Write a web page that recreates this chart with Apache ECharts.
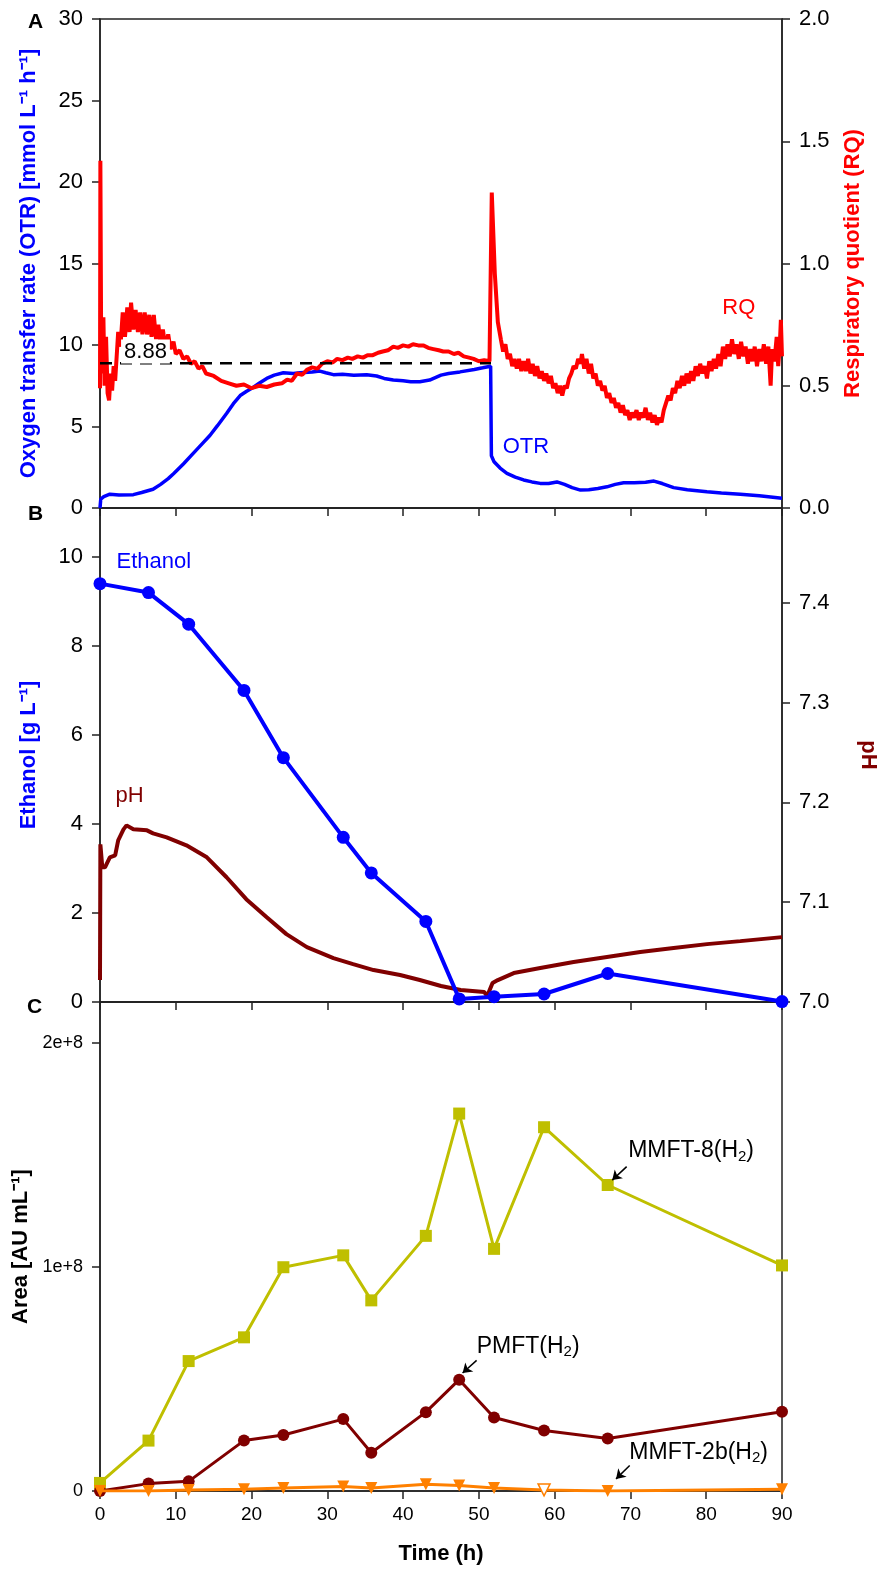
<!DOCTYPE html>
<html>
<head>
<meta charset="utf-8">
<script src="https://cdn.jsdelivr.net/npm/echarts@6/dist/echarts.min.js"></script>
<style>
  html, body { margin: 0; padding: 0; background: #fff; }
  #chart { width: 882px; height: 1578px; }
</style>
</head>
<body>
<div id="chart"></div>
<script>
// panel A: online signals [time h, value]
const otrPoints = [
  [0, 0], [0.1, 0.55], [0.5, 0.7], [1.3, 0.85], [2.5, 0.8], [4.4, 0.82], [5.5, 0.95], [7.0, 1.15],
  [8.0, 1.45], [9.0, 1.8], [9.7, 2.1], [11.0, 2.7], [12.3, 3.35], [13.5, 3.95], [14.5, 4.45],
  [15.5, 5.05], [16.7, 5.8], [17.6, 6.4], [18.5, 6.9], [19.3, 7.15], [20.2, 7.4], [21.0, 7.65],
  [22.0, 7.95], [23.0, 8.15], [24.2, 8.3], [25.5, 8.25], [26.4, 8.3], [28.0, 8.35], [29.0, 8.4],
  [29.8, 8.3], [30.8, 8.18], [32.0, 8.2], [33.5, 8.15], [35.2, 8.18], [36.5, 8.1], [37.5, 7.95],
  [38.7, 7.85], [40.0, 7.8], [41.0, 7.75], [42.2, 7.75], [43.5, 7.85], [45.0, 8.15], [46.0, 8.25],
  [47.5, 8.35], [49.4, 8.5], [50.5, 8.6], [51.55, 8.7], [51.65, 3.2], [52.0, 2.84], [52.8, 2.45],
  [53.7, 2.13], [54.8, 1.9], [55.9, 1.72], [57.0, 1.6], [58.1, 1.51], [59.2, 1.5], [60.3, 1.6],
  [61.3, 1.45], [62.3, 1.25], [63.4, 1.1], [64.5, 1.12], [65.7, 1.2], [66.9, 1.3], [68.0, 1.45],
  [69.1, 1.55], [70.5, 1.55], [72.0, 1.58], [73.1, 1.65], [74.2, 1.5], [75.7, 1.25], [77.5, 1.12],
  [80.1, 1.0], [82.0, 0.92], [84.5, 0.84], [87.0, 0.75], [90.0, 0.6]
]
const rqPoints = [
  [0, 0.49], [0.05, 1.42], [0.15, 0.70], [0.3, 0.55], [0.45, 0.78], [0.6, 0.50], [0.8, 0.70],
  [1.0, 0.47], [1.2, 0.44], [1.4, 0.55], [1.6, 0.48], [1.8, 0.58], [2.0, 0.52], [2.2, 0.62],
  [2.4, 0.72], [2.7, 0.66], [3.0, 0.80], [3.3, 0.70], [3.6, 0.82], [3.9, 0.72], [4.1, 0.84],
  [4.4, 0.73], [4.7, 0.81], [5.0, 0.72], [5.3, 0.80], [5.6, 0.71], [5.9, 0.80], [6.2, 0.71],
  [6.5, 0.79], [6.8, 0.70], [7.1, 0.79], [7.4, 0.69], [7.7, 0.75], [8.0, 0.67], [8.3, 0.73],
  [8.6, 0.66], [9.0, 0.71], [9.3, 0.65], [9.7, 0.68], [10.0, 0.63], [10.5, 0.645], [11.0, 0.61],
  [11.5, 0.62], [12.0, 0.59], [12.5, 0.60], [13.0, 0.57], [13.5, 0.58], [14.0, 0.55], [15.0, 0.54],
  [16.0, 0.52], [17.0, 0.51], [18.0, 0.50], [19.0, 0.505], [20.0, 0.49], [21.0, 0.50], [22.0, 0.495],
  [23.0, 0.505], [24.0, 0.51], [24.7, 0.525], [25.3, 0.52], [26.0, 0.55], [26.7, 0.545], [27.3, 0.565],
  [28.0, 0.575], [28.7, 0.57], [29.3, 0.59], [30.0, 0.60], [30.7, 0.595], [31.3, 0.61], [32.0, 0.605],
  [32.7, 0.615], [33.3, 0.61], [34.0, 0.62], [34.7, 0.615], [35.3, 0.625], [36.0, 0.625], [36.7, 0.635],
  [37.3, 0.64], [38.0, 0.645], [38.7, 0.66], [39.3, 0.655], [40.0, 0.665], [40.7, 0.66], [41.3, 0.67],
  [42.0, 0.665], [42.7, 0.665], [43.3, 0.655], [44.0, 0.65], [44.7, 0.645], [45.3, 0.64], [46.0, 0.64],
  [46.7, 0.63], [47.3, 0.635], [48.0, 0.62], [48.7, 0.615], [49.3, 0.61], [50.0, 0.60], [50.7, 0.605],
  [51.4, 0.60], [51.7, 1.29], [52.1, 0.96], [52.5, 0.76], [52.9, 0.69], [53.2, 0.64], [53.5, 0.67],
  [53.8, 0.61], [54.1, 0.63], [54.4, 0.58], [54.7, 0.61], [55.0, 0.57], [55.3, 0.61], [55.6, 0.56],
  [55.9, 0.60], [56.2, 0.56], [56.5, 0.61], [56.8, 0.55], [57.1, 0.59], [57.4, 0.54], [57.7, 0.58],
  [58.0, 0.53], [58.3, 0.56], [58.6, 0.52], [58.9, 0.55], [59.2, 0.51], [59.5, 0.54], [59.8, 0.49],
  [60.1, 0.51], [60.4, 0.47], [60.7, 0.50], [61.0, 0.46], [61.3, 0.50], [61.6, 0.49], [61.9, 0.53],
  [62.2, 0.55], [62.5, 0.58], [62.8, 0.57], [63.1, 0.61], [63.4, 0.59], [63.6, 0.63], [63.9, 0.57],
  [64.2, 0.61], [64.5, 0.55], [64.8, 0.59], [65.1, 0.53], [65.4, 0.55], [65.7, 0.50], [66.0, 0.52],
  [66.3, 0.48], [66.6, 0.50], [66.9, 0.45], [67.2, 0.47], [67.5, 0.43], [67.8, 0.45], [68.1, 0.41],
  [68.4, 0.43], [68.7, 0.39], [69.0, 0.42], [69.3, 0.38], [69.6, 0.40], [69.9, 0.36], [70.2, 0.39],
  [70.5, 0.37], [70.8, 0.40], [71.1, 0.36], [71.4, 0.39], [71.7, 0.37], [72.0, 0.41], [72.3, 0.36],
  [72.6, 0.39], [72.9, 0.35], [73.2, 0.38], [73.5, 0.34], [73.8, 0.37], [74.1, 0.35], [74.4, 0.40],
  [74.7, 0.43], [75.0, 0.46], [75.3, 0.44], [75.6, 0.49], [75.9, 0.47], [76.2, 0.52], [76.5, 0.49],
  [76.8, 0.54], [77.1, 0.50], [77.4, 0.55], [77.7, 0.51], [78.0, 0.56], [78.3, 0.52], [78.6, 0.58],
  [78.9, 0.54], [79.2, 0.59], [79.5, 0.55], [79.8, 0.58], [80.1, 0.53], [80.4, 0.60], [80.7, 0.56],
  [81.0, 0.61], [81.3, 0.57], [81.6, 0.63], [81.9, 0.58], [82.2, 0.66], [82.5, 0.61], [82.8, 0.67],
  [83.1, 0.62], [83.4, 0.69], [83.7, 0.63], [84.0, 0.67], [84.3, 0.61], [84.6, 0.68], [84.9, 0.62],
  [85.2, 0.66], [85.5, 0.59], [85.8, 0.65], [86.1, 0.60], [86.4, 0.66], [86.7, 0.58], [87.0, 0.65],
  [87.3, 0.60], [87.6, 0.67], [87.9, 0.59], [88.2, 0.66], [88.5, 0.50], [88.7, 0.65], [89.0, 0.60],
  [89.3, 0.70], [89.5, 0.58], [89.7, 0.66], [89.85, 0.77], [90.0, 0.62]
]
const otrRefValue = 8.88
const otrRefEnd = 51.6

// panel B: offline samples and pH signal
const sampleTimes = [0, 6.4, 11.7, 19.0, 24.2, 32.1, 35.8, 43.0, 47.4, 52.0, 58.6, 67.0, 90.0]
const ethanol = [9.40, 9.20, 8.49, 7.00, 5.49, 3.70, 2.90, 1.81, 0.07, 0.12, 0.18, 0.64, 0.01]
const phPoints = [
  [0, 7.022], [0.05, 7.158], [0.3, 7.135], [0.66, 7.135], [1.3, 7.145], [2.0, 7.147], [2.4, 7.162],
  [3.1, 7.173], [3.5, 7.177], [4.4, 7.173], [6.2, 7.172], [7.0, 7.169], [8.8, 7.165], [11.4, 7.157],
  [14.1, 7.145], [16.7, 7.125], [19.3, 7.103], [22.0, 7.085], [24.6, 7.068], [27.3, 7.055],
  [30.8, 7.044], [33.4, 7.038], [36.1, 7.032], [39.6, 7.027], [42.2, 7.022], [45.0, 7.016],
  [47.6, 7.012], [50.7, 7.010], [51.1, 7.006], [51.8, 7.019], [52.5, 7.022], [54.6, 7.029],
  [58.1, 7.034], [62.5, 7.040], [66.9, 7.045], [71.3, 7.050], [75.7, 7.054], [80.1, 7.058],
  [84.5, 7.061], [90.0, 7.065]
]

// panel C: peak areas at the sample times
const mmft8 = [0.036e8, 0.225e8, 0.58e8, 0.686e8, 0.999e8, 1.052e8, 0.851e8, 1.139e8, 1.685e8, 1.081e8, 1.624e8, 1.366e8, 1.007e8]
const pmft = [0, 0.033e8, 0.043e8, 0.225e8, 0.25e8, 0.321e8, 0.171e8, 0.352e8, 0.497e8, 0.328e8, 0.27e8, 0.234e8, 0.354e8]
const mmft2b = [0, 0, 0.005e8, 0.008e8, 0.013e8, 0.02e8, 0.013e8, 0.03e8, 0.025e8, 0.013e8, 0.005e8, 0, 0.008e8]
const mmft2bOpenIndex = 10

const timeTicks = { min: 0, max: 90, interval: 10 }

const FONT = "'Liberation Sans', Arial, sans-serif"
const AXIS_COLOR = '#222'
const TEXT_COLOR = '#000'

function pairs(xs, ys) {
  return xs.map((x, i) => [x, ys[i]])
}

// text placed in data coordinates
function textSeries(xi, yi, x, y, text, color, size, rich) {
  return {
    type: 'scatter',
    xAxisIndex: xi,
    yAxisIndex: yi,
    symbolSize: 0,
    silent: true,
    z: 10,
    data: [[x, y]],
    label: {
      show: true,
      position: 'inside',
      formatter: text,
      color: color,
      opacity: 1,
      fontSize: size,
      fontFamily: FONT,
      rich: rich
    }
  }
}

function arrowLine(from, to) {
  return [{ coord: from, symbol: 'none' }, { coord: to, symbol: 'arrow' }]
}

const gridBase = {
  left: 100, right: 100, show: true, borderColor: AXIS_COLOR, borderWidth: 1.5,
  outerBoundsMode: 'none', containLabel: false
}

function xAxisFor(gridIndex, showLabels) {
  return {
    type: 'value',
    gridIndex: gridIndex,
    min: timeTicks.min,
    max: timeTicks.max,
    interval: timeTicks.interval,
    splitLine: { show: false },
    axisLine: { show: true, onZero: false, lineStyle: { color: AXIS_COLOR, width: 1.5 } },
    axisTick: { show: true, length: 8, lineStyle: { color: AXIS_COLOR, width: 1.5 } },
    axisLabel: { show: showLabels, color: TEXT_COLOR, fontSize: 19, fontFamily: FONT, margin: 14 },
    name: showLabels ? 'Time (h)' : '',
    nameLocation: 'middle',
    nameGap: 52,
    nameTextStyle: { color: TEXT_COLOR, fontSize: 22, fontWeight: 'bold', fontFamily: FONT }
  }
}

function yAxisFor(gridIndex, position, cfg) {
  return Object.assign({
    type: 'value',
    gridIndex: gridIndex,
    position: position,
    splitLine: { show: false },
    axisLine: { show: true, onZero: false, lineStyle: { color: AXIS_COLOR, width: 1.5 } },
    axisTick: { show: true, length: 8, lineStyle: { color: AXIS_COLOR, width: 1.5 } },
    nameLocation: 'middle'
  }, cfg)
}

const tickLabel = { color: TEXT_COLOR, fontSize: 22, fontFamily: FONT, margin: 17, showMaxLabel: false }
const titleStyle = (color) => ({ color: color, fontSize: 22, fontWeight: 'bold', fontFamily: FONT })

const sub = {
  a: { fontSize: 23, fontFamily: FONT, color: TEXT_COLOR },
  s: { fontSize: 15, fontFamily: FONT, color: TEXT_COLOR, padding: [11, 0, 0, 0] }
}

const option = {
  animation: false,
  backgroundColor: '#fff',
  grid: [
    Object.assign({ top: 19, height: 489 }, gridBase),
    Object.assign({ top: 508, height: 494 }, gridBase),
    Object.assign({ top: 1002, height: 489 }, gridBase)
  ],
  xAxis: [xAxisFor(0, false), xAxisFor(1, false), xAxisFor(2, true)],
  yAxis: [
    yAxisFor(0, 'left', {
      min: 0, max: 30, interval: 5,
      axisLabel: Object.assign({}, tickLabel, { showMaxLabel: true }),
      name: 'Oxygen transfer rate (OTR) [mmol L\u207B\u00B9 h\u207B\u00B9]',
      nameGap: 60, nameRotate: 90,
      nameTextStyle: titleStyle('#0000ff')
    }),
    yAxisFor(0, 'right', {
      min: 0, max: 2, interval: 0.5,
      axisLabel: Object.assign({}, tickLabel, { showMaxLabel: true, formatter: v => v.toFixed(1) }),
      name: 'Respiratory quotient (RQ)',
      nameGap: 60, nameRotate: 90,
      nameTextStyle: titleStyle('#ff0000')
    }),
    yAxisFor(1, 'left', {
      min: 0, max: 11.1, interval: 2,
      axisLabel: tickLabel,
      name: 'Ethanol [g L\u207B\u00B9]',
      nameGap: 60, nameRotate: 90,
      nameTextStyle: titleStyle('#0000ff')
    }),
    yAxisFor(1, 'right', {
      min: 7.0, max: 7.495, interval: 0.1,
      axisLabel: Object.assign({}, tickLabel, { formatter: v => v.toFixed(1) }),
      name: 'pH',
      nameGap: 75, nameRotate: -90,
      nameTextStyle: titleStyle('#800000')
    }),
    yAxisFor(2, 'left', {
      min: 0, max: 2.183e8, interval: 1e8,
      axisLabel: Object.assign({}, tickLabel, { fontSize: 18, formatter: v => v === 0 ? '0' : (v / 1e8) + 'e+8' }),
      name: 'Area [AU mL\u207B\u00B9]',
      nameGap: 60, nameRotate: 90,
      nameTextStyle: titleStyle(TEXT_COLOR)
    })
  ],
  graphic: [
    { type: 'text', left: 28, top: 12, style: { text: 'A', font: 'bold 21px ' + FONT, fill: TEXT_COLOR } },
    { type: 'text', left: 28, top: 504, style: { text: 'B', font: 'bold 21px ' + FONT, fill: TEXT_COLOR } },
    { type: 'text', left: 27, top: 997, style: { text: 'C', font: 'bold 21px ' + FONT, fill: TEXT_COLOR } }
  ],
  series: [
    {
      name: 'OTR',
      type: 'line',
      xAxisIndex: 0,
      yAxisIndex: 0,
      data: otrPoints,
      showSymbol: false,
      lineStyle: { color: '#0000ff', width: 3.5 },
      itemStyle: { color: '#0000ff' },
      z: 2
    },
    {
      name: 'RQ',
      type: 'line',
      xAxisIndex: 0,
      yAxisIndex: 1,
      data: rqPoints,
      showSymbol: false,
      lineStyle: { color: '#ff0000', width: 4 },
      itemStyle: { color: '#ff0000' },
      z: 3
    },
    {
      name: 'OTR reference',
      type: 'line',
      xAxisIndex: 0,
      yAxisIndex: 0,
      data: [[0, otrRefValue], [otrRefEnd, otrRefValue]],
      showSymbol: false,
      lineStyle: { color: '#000', width: 2.5, type: [12, 8] },
      z: 4
    },
    (() => {
      const s = textSeries(0, 0, 6.0, 9.6, String(otrRefValue), TEXT_COLOR, 22)
      s.label.backgroundColor = '#fff'
      s.label.padding = [1, 3]
      return s
    })(),
    textSeries(0, 0, 84.3, 12.25, 'RQ', '#ff0000', 22),
    textSeries(0, 0, 56.2, 3.75, 'OTR', '#0000ff', 22),
    {
      name: 'Ethanol',
      type: 'line',
      xAxisIndex: 1,
      yAxisIndex: 2,
      data: pairs(sampleTimes, ethanol),
      symbol: 'circle',
      symbolSize: 13,
      lineStyle: { color: '#0000ff', width: 4 },
      itemStyle: { color: '#0000ff' },
      z: 3
    },
    {
      name: 'pH',
      type: 'line',
      xAxisIndex: 1,
      yAxisIndex: 3,
      data: phPoints,
      showSymbol: false,
      lineStyle: { color: '#800000', width: 4 },
      itemStyle: { color: '#800000' },
      z: 2
    },
    textSeries(1, 2, 7.1, 9.89, 'Ethanol', '#0000ff', 22),
    textSeries(1, 2, 3.9, 4.63, 'pH', '#800000', 22),
    {
      name: 'MMFT-8(H2)',
      type: 'line',
      xAxisIndex: 2,
      yAxisIndex: 4,
      data: pairs(sampleTimes, mmft8),
      symbol: 'rect',
      symbolSize: 12,
      lineStyle: { color: '#bfbf00', width: 3 },
      itemStyle: { color: '#bfbf00' },
      z: 2,
      markLine: {
        silent: true,
        symbolSize: 9,
        label: { show: false },
        lineStyle: { color: '#000', width: 1.5, type: 'solid' },
        data: [
          arrowLine([69.5, 1.448e8], [67.6, 1.388e8]),
          arrowLine([49.7, 0.583e8], [47.85, 0.527e8]),
          arrowLine([69.9, 0.114e8], [68.1, 0.054e8])
        ]
      }
    },
    {
      name: 'PMFT(H2)',
      type: 'line',
      xAxisIndex: 2,
      yAxisIndex: 4,
      data: pairs(sampleTimes, pmft),
      symbol: 'circle',
      symbolSize: 12,
      lineStyle: { color: '#800000', width: 3 },
      itemStyle: { color: '#800000' },
      z: 3
    },
    {
      name: 'MMFT-2b(H2)',
      type: 'line',
      xAxisIndex: 2,
      yAxisIndex: 4,
      data: pairs(sampleTimes, mmft2b).map((p, i) => i === mmft2bOpenIndex
        ? { value: p, itemStyle: { color: '#fff', borderColor: '#ff8000', borderWidth: 1.5 } }
        : p),
      symbol: 'triangle',
      symbolRotate: 180,
      symbolSize: 12,
      lineStyle: { color: '#ff8000', width: 3 },
      itemStyle: { color: '#ff8000' },
      z: 4
    },
    textSeries(2, 4, 78.0, 1.518e8, '{a|MMFT-8(H}{s|2}{a|)}', TEXT_COLOR, 23, sub),
    textSeries(2, 4, 56.5, 0.645e8, '{a|PMFT(H}{s|2}{a|)}', TEXT_COLOR, 23, sub),
    textSeries(2, 4, 79.0, 0.171e8, '{a|MMFT-2b(H}{s|2}{a|)}', TEXT_COLOR, 23, sub)
  ]
}

const chart = echarts.init(document.getElementById('chart'), null, { renderer: 'canvas' })
chart.setOption(option)
</script>
</body>
</html>
